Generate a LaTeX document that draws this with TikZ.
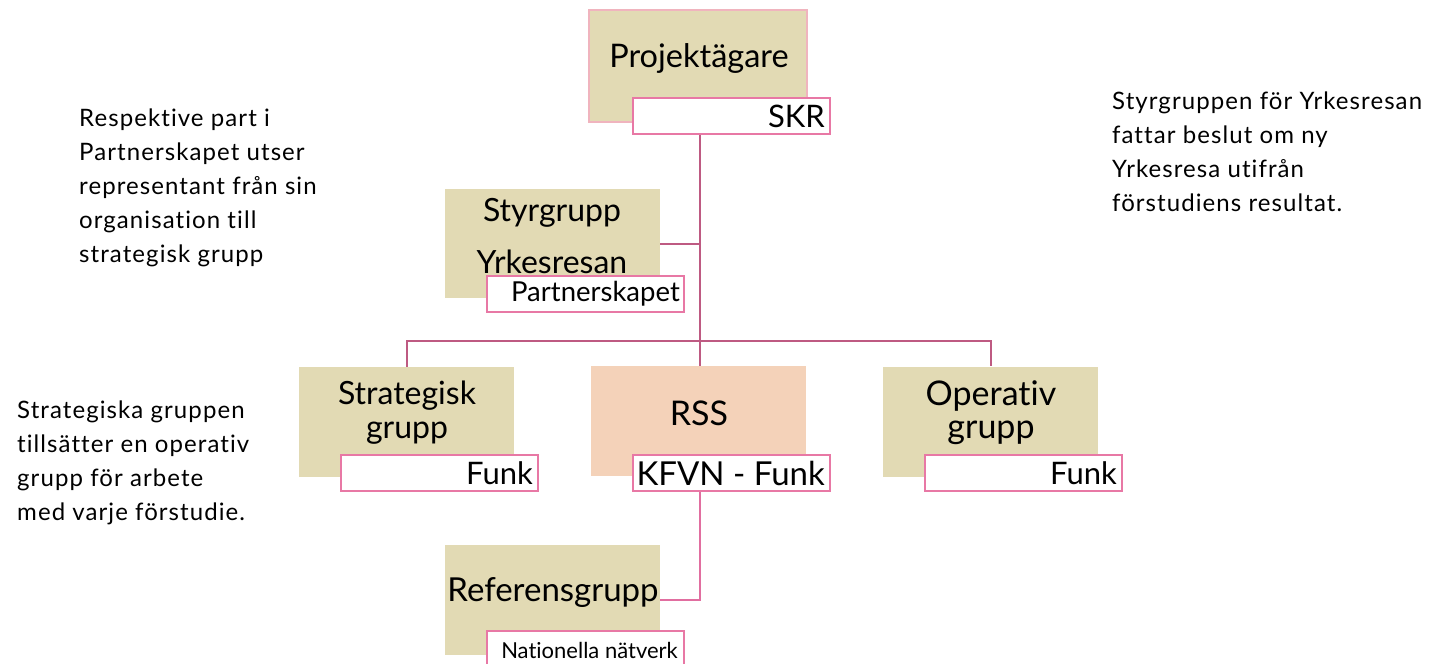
\documentclass[tikz,border=0pt]{standalone}
\usepackage{fontspec}
\setmainfont[Ligatures=NoCommon]{Lato}
\newfontfamily\sidefont[Ligatures=NoCommon,LetterSpace=4.5]{Lato}
\definecolor{tan}{HTML}{E2DAB4}
\definecolor{peach}{HTML}{F4D2B9}
\definecolor{lightpink}{HTML}{F0B4BE}
\definecolor{boxpink}{HTML}{E878A5}
\definecolor{linemag}{HTML}{BE5A82}
\definecolor{linepink}{HTML}{E16EA0}
\tikzset{
  bigbox/.style={fill=tan, draw=none, minimum width=215pt, minimum height=110pt, inner sep=0pt},
  tagbox/.style={fill=white, draw=boxpink, line width=2pt, minimum width=197pt, minimum height=36pt, inner sep=0pt},
  boxtext/.style={font=\fontsize{32}{34}\selectfont, inner sep=0pt},
  tagtext/.style={font=\fontsize{31}{33}\selectfont, inner sep=0pt, anchor=east},
  sidetext/.style={font=\sidefont\fontsize{24}{34}\selectfont, align=left, inner sep=0pt, anchor=north west},
  conn/.style={draw=linemag, line width=2pt},
}
\begin{document}
\begin{tikzpicture}[x=1pt,y=-1pt]
\useasboundingbox (0,0) rectangle (1433,664);
% top
\node[bigbox, draw=lightpink, line width=2pt, minimum width=218pt, minimum height=112pt] (proj) at (698,66) {};
\node[boxtext, font=\fontsize{32.5}{34}\selectfont] (projt) at (699,58) {Projektägare};
\node[tagbox] (skr) at (731,116) {};
\node[tagtext] (skrt) at (825,116) {SKR};
% styrgrupp
\node[bigbox, minimum height=109pt] (styr) at (552.5,243.5) {};
\node[boxtext] (styrt1) at (552,213) {Styrgrupp};
\node[boxtext] (styrt2) at (552,262) {Yrkesresan};
\node[tagbox] (partner) at (585,294) {};
\node[tagtext, font=\fontsize{27.5}{29}\selectfont] (partnert) at (680,294) {Partnerskapet};
% second row
\node[bigbox] (strat) at (406.5,422) {};
\node[boxtext] (stratt1) at (407,396) {Strategisk};
\node[boxtext] (stratt2) at (407,433) {grupp};
\node[tagbox] (funk1) at (439.5,473) {};
\node[tagtext] (funk1t) at (533,473) {Funk};
\node[bigbox, fill=peach] (rss) at (698.5,421) {};
\node[boxtext, font=\fontsize{34}{36}\selectfont] (rsst) at (699,413) {RSS};
\node[tagbox] (kfvn) at (731,473) {};
\node[tagtext, font=\fontsize{33}{35}\selectfont] (kfvnt) at (825,473) {KFVN - Funk};
\node[bigbox] (oper) at (990.5,421.5) {};
\node[boxtext, font=\fontsize{34}{36}\selectfont] (opert1) at (991,396) {Operativ};
\node[boxtext, font=\fontsize{34}{36}\selectfont] (opert2) at (991,433) {grupp};
\node[tagbox] (funk2) at (1023,473) {};
\node[tagtext] (funk2t) at (1117,473) {Funk};
% referensgrupp
\node[bigbox] (ref) at (552.5,600) {};
\node[boxtext, font=\fontsize{33}{35}\selectfont] (reft) at (553,593) {Referensgrupp};
\node[tagbox, minimum height=34pt] (nat) at (585,648) {};
\node[tagtext, font=\fontsize{22}{24}\selectfont] (natt) at (678,650) {Nationella nätverk};
% connectors
\coordinate (bar) at (700,341);
\draw[conn] (bar |- skr.south) -- (bar) -- (rss.north -| bar);
\draw[conn] (strat.north) |- (bar) -| (oper.north);
\draw[conn] (styr.east) -- (styr.east -| bar);
\draw[conn, draw=linepink] (bar |- kfvn.south) |- (ref.east);
% side texts
\node[sidetext] (lefttop) at (79,109) {Respektive part i\\Partnerskapet utser\\representant från sin\\organisation till\\strategisk grupp};
\node[sidetext] (leftbot) at (17,401) {Strategiska gruppen\\tillsätter en operativ\\grupp för arbete\\med varje förstudie.};
\node[sidetext] (right) at (1112,92) {Styrgruppen för Yrkesresan\\fattar beslut om ny\\Yrkesresa utifrån\\förstudiens resultat.};
\end{tikzpicture}
\end{document}
